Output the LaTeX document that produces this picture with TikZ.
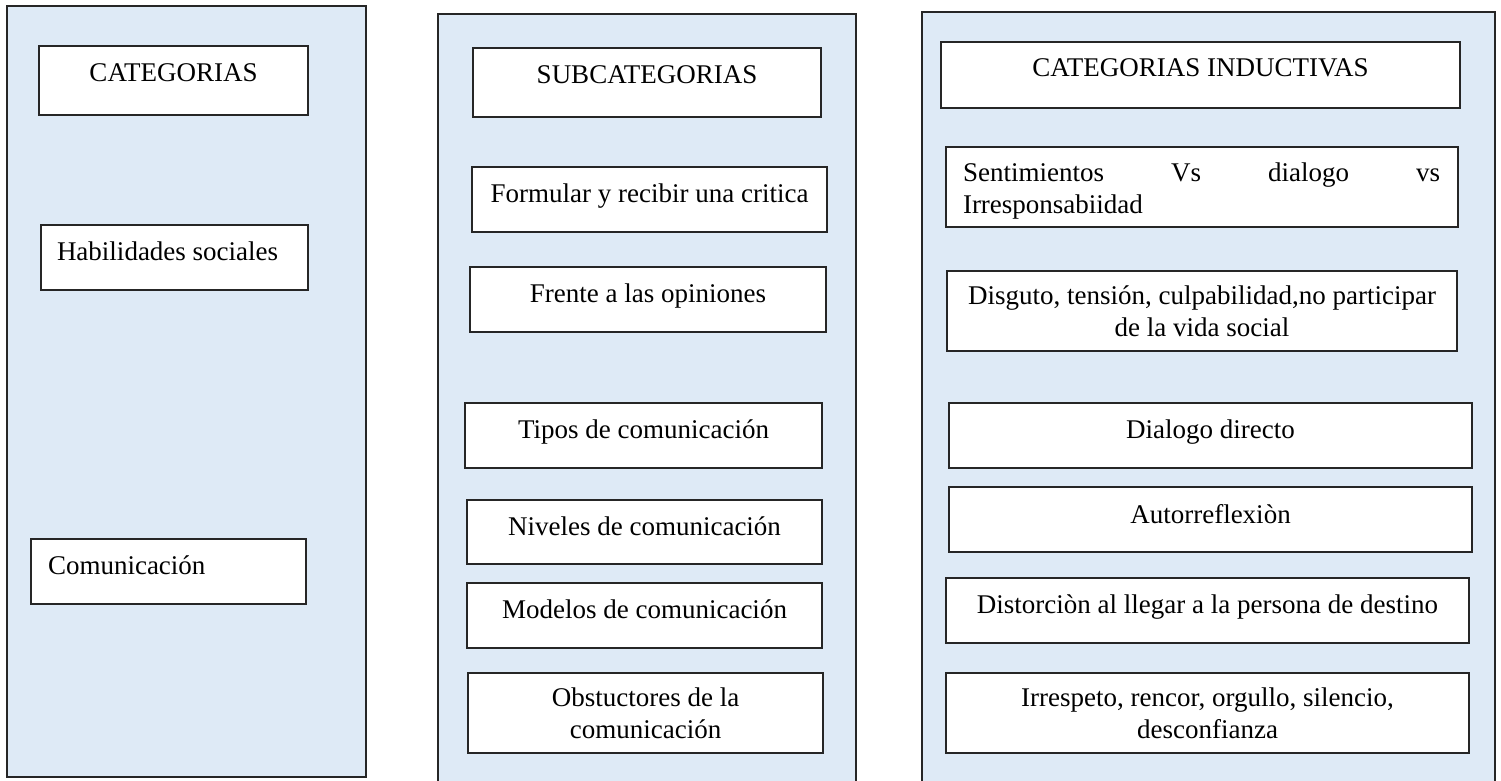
\documentclass[tikz,border=0pt]{standalone}
\usepackage{fontspec}
\setmainfont{Liberation Serif}
\definecolor{panelfill}{RGB}{222,234,246}
\definecolor{edgecol}{RGB}{38,38,38}
\begin{document}
\begin{tikzpicture}[x=1pt,y=-1pt,
  panel/.style={fill=panelfill},
  panelline/.style={draw=edgecol,line width=1.4pt},
  bxs/.style={draw=edgecol,fill=white,line width=1.3pt,inner sep=0pt,outer sep=0pt},
  txt/.style={inner sep=0pt,outer sep=0pt,font=\fontsize{27}{31.5}\selectfont,align=center},
  txtl/.style={inner sep=0pt,outer sep=0pt,font=\fontsize{27}{31.5}\selectfont,align=left}
]
\useasboundingbox (0,0) rectangle (1501,781);
% panels
\fill[panel] (7,6) rectangle (366,777);
\draw[panelline] (7,6) rectangle (366,777);
\fill[panel] (438,14) rectangle (856,781);
\draw[panelline] (438,781) -- (438,14) -- (856,14) -- (856,781);
\fill[panel] (922,12) rectangle (1495,781);
\draw[panelline] (922,781) -- (922,12) -- (1495,12) -- (1495,781);
% box macro: name, x1, y1, x2, y2
\newcommand\mybox[5]{\node[bxs,anchor=north west,minimum width={#4-#2},minimum height={#5-#3}] (#1) at (#2,#3) {};}
% left column
\mybox{cat}{39}{46}{308}{115}
\node[txt,anchor=north] (catt) at ([yshift=-18pt]cat.north) {CATEGORIAS};
\mybox{hab}{41}{225}{308}{290}
\node[txtl,anchor=north west] (habt) at (57,242) {Habilidades sociales};
\mybox{com}{31}{539}{306}{604}
\node[txtl,anchor=north west] (comt) at (48,556) {Comunicación};
% middle column
\mybox{sub}{473}{48}{821}{117}
\node[txt,anchor=north] (subt) at ([yshift=-18pt]sub.north) {SUBCATEGORIAS};
\mybox{mf}{472}{167}{827}{232}
\node[txt,anchor=north] (mft) at ([yshift=-17pt]mf.north) {Formular y recibir una critica};
\mybox{mo}{470}{267}{826}{332}
\node[txt,anchor=north] (mot) at ([yshift=-17pt]mo.north) {Frente a las opiniones};
\mybox{mt}{465}{403}{822}{468}
\node[txt,anchor=north] (mtt) at ([yshift=-17pt]mt.north) {Tipos de comunicación};
\mybox{mn}{467}{500}{822}{564}
\node[txt,anchor=north] (mnt) at ([yshift=-17pt]mn.north) {Niveles de comunicación};
\mybox{mm}{467}{583}{822}{648}
\node[txt,anchor=north] (mmt) at ([yshift=-17pt]mm.north) {Modelos de comunicación};
\mybox{mb}{468}{673}{823}{753}
\node[txt,anchor=north] (mbt) at ([yshift=-15pt]mb.north) {Obstuctores de la\\comunicación};
% right column
\mybox{ind}{941}{42}{1460}{108}
\node[txt,anchor=north] (indt) at ([yshift=-17pt]ind.north) {CATEGORIAS INDUCTIVAS};
\mybox{ra}{946}{147}{1458}{227}
\node[txtl,anchor=north west] (rat) at (963,163) {\makebox[477pt][s]{Sentimientos Vs dialogo vs}\\Irresponsabiidad};
\mybox{rb}{947}{271}{1457}{351}
\node[txt,anchor=north] (rbt) at ([yshift=-15pt]rb.north) {Disguto, tensión, culpabilidad,no participar\\de la vida social};
\mybox{rc}{949}{403}{1472}{468}
\node[txt,anchor=north] (rct) at ([yshift=-17pt]rc.north) {Dialogo directo};
\mybox{rd}{949}{487}{1472}{552}
\node[txt,anchor=north] (rdt) at ([yshift=-17pt]rd.north) {Autorreflexiòn};
\mybox{re}{946}{578}{1469}{643}
\node[txt,anchor=north] (ret) at ([yshift=-17pt]re.north) {Distorciòn al llegar a la persona de destino};
\mybox{rf}{946}{673}{1469}{753}
\node[txt,anchor=north] (rft) at ([yshift=-15pt]rf.north) {Irrespeto, rencor, orgullo, silencio,\\desconfianza};
\end{tikzpicture}
\end{document}
